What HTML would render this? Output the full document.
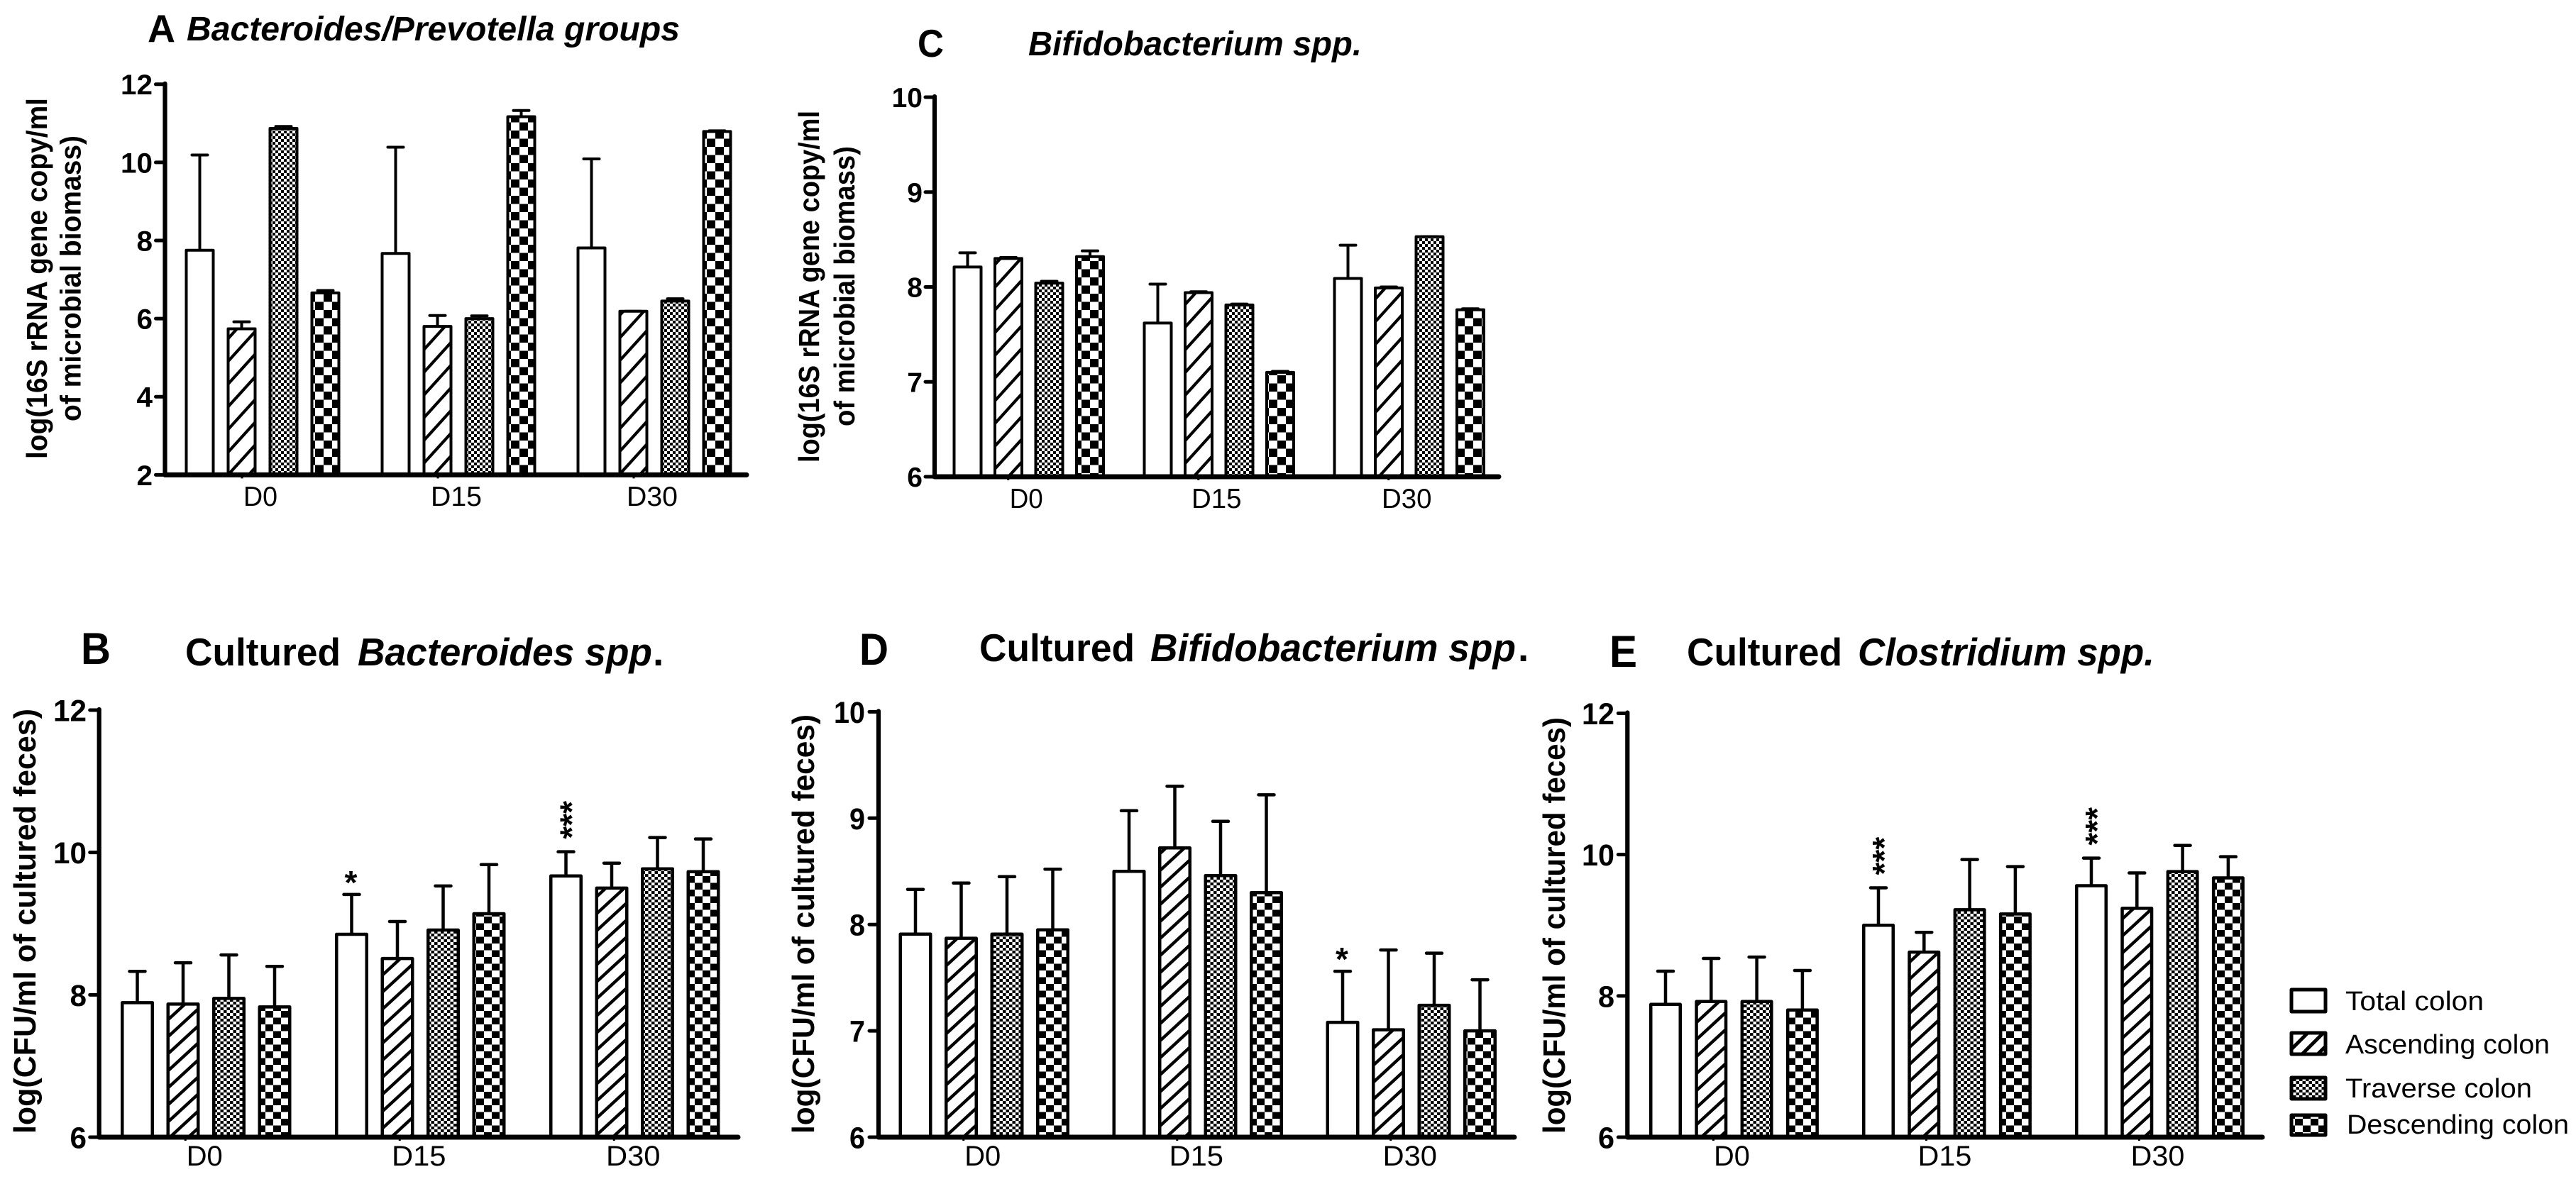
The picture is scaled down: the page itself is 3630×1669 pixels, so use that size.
<!DOCTYPE html>
<html lang="en">
<head>
<meta charset="utf-8">
<title>Colon microbiota bar charts</title>
<style>
html,body{margin:0;padding:0;background:#fff;width:3630px;height:1669px;overflow:hidden}
svg{display:block}
text{font-family:"Liberation Sans",sans-serif;fill:#000}
.b{font-weight:bold}
.bi{font-weight:bold;font-style:italic}
</style>
</head>
<body>
<svg id="figure" xmlns="http://www.w3.org/2000/svg" width="3630" height="1669" viewBox="0 0 3630 1669">
<defs>
<pattern id="hatch-top" patternUnits="userSpaceOnUse" width="29" height="32">
<rect width="29" height="32" fill="#fff"/>
<path d="M-2.9 3.2L2.9 -3.2M0 32L29 0M26.1 35.2L31.9 28.8" stroke="#000" stroke-width="4.2" fill="none"/>
</pattern>
<pattern id="hatch-low" patternUnits="userSpaceOnUse" width="26" height="24">
<rect width="26" height="24" fill="#fff"/>
<path d="M-2.6 2.4L2.6 -2.4M0 24L26 0M23.4 26.4L28.6 21.6" stroke="#000" stroke-width="4.4" fill="none"/>
</pattern>
<pattern id="hatch-legend" patternUnits="userSpaceOnUse" width="22" height="22">
<rect width="22" height="22" fill="#fff"/>
<path d="M-2 2L2 -2M0 22L22 0M20 24L24 20" stroke="#000" stroke-width="5" fill="none"/>
</pattern>
<pattern id="fine-top" patternUnits="userSpaceOnUse" width="8" height="8">
<rect width="8" height="8" fill="#fff"/>
<rect x="0" y="0" width="4" height="4" fill="#000"/>
<rect x="4" y="4" width="4" height="4" fill="#000"/>
</pattern>
<pattern id="fine-low" patternUnits="userSpaceOnUse" width="9" height="8">
<rect width="9" height="8" fill="#fff"/>
<rect x="0" y="0" width="4.5" height="4" fill="#000"/>
<rect x="4.5" y="4" width="4.5" height="4" fill="#000"/>
</pattern>
<pattern id="coarse-top" patternUnits="userSpaceOnUse" width="24" height="23">
<rect width="24" height="23" fill="#fff"/>
<rect x="0" y="0" width="12" height="11.5" fill="#000"/>
<rect x="12" y="11.5" width="12" height="11.5" fill="#000"/>
</pattern>
<pattern id="coarse-low" patternUnits="userSpaceOnUse" width="22" height="19">
<rect width="22" height="19" fill="#fff"/>
<rect x="0" y="0" width="11" height="9.5" fill="#000"/>
<rect x="11" y="9.5" width="11" height="9.5" fill="#000"/>
</pattern>
</defs>
<rect width="3630" height="1669" fill="#fff"/>

<!-- Panel letters and titles -->
<text class="b" x="208" y="59" font-size="55" textLength="39" lengthAdjust="spacingAndGlyphs">A</text>
<text class="bi" x="263" y="57" font-size="48" textLength="695" lengthAdjust="spacingAndGlyphs">Bacteroides/Prevotella groups</text>

<text class="b" x="1293" y="80" font-size="55" textLength="37" lengthAdjust="spacingAndGlyphs">C</text>
<text class="bi" x="1449" y="78" font-size="48" textLength="470" lengthAdjust="spacingAndGlyphs">Bifidobacterium spp.</text>

<text class="b" x="114" y="936" font-size="63" textLength="42" lengthAdjust="spacingAndGlyphs">B</text>
<text class="b" x="261" y="938" font-size="55" textLength="219" lengthAdjust="spacingAndGlyphs">Cultured</text>
<text class="bi" x="504" y="938" font-size="55" textLength="415" lengthAdjust="spacingAndGlyphs">Bacteroides spp</text>
<text class="b" x="920" y="938" font-size="55">.</text>

<text class="b" x="1211" y="937" font-size="63" textLength="41" lengthAdjust="spacingAndGlyphs">D</text>
<text class="b" x="1380" y="932" font-size="55" textLength="219" lengthAdjust="spacingAndGlyphs">Cultured</text>
<text class="bi" x="1621" y="932" font-size="55" textLength="515" lengthAdjust="spacingAndGlyphs">Bifidobacterium spp</text>
<text class="b" x="2139" y="932" font-size="55">.</text>

<text class="b" x="2268" y="940" font-size="63" textLength="39" lengthAdjust="spacingAndGlyphs">E</text>
<text class="b" x="2377" y="938" font-size="55" textLength="219" lengthAdjust="spacingAndGlyphs">Cultured</text>
<text class="bi" x="2618" y="938" font-size="55" textLength="418" lengthAdjust="spacingAndGlyphs">Clostridium spp.</text>

<!-- Y axis titles -->
<text class="b" font-size="41" transform="translate(66,647) rotate(-90)" textLength="509" lengthAdjust="spacingAndGlyphs">log(16S rRNA gene copy/ml</text>
<text class="b" font-size="41" transform="translate(113.5,594) rotate(-90)" textLength="403" lengthAdjust="spacingAndGlyphs">of microbial biomass)</text>
<text class="b" font-size="41" transform="translate(1154,652) rotate(-90)" textLength="496" lengthAdjust="spacingAndGlyphs">log(16S rRNA gene copy/ml</text>
<text class="b" font-size="41" transform="translate(1204,601) rotate(-90)" textLength="395" lengthAdjust="spacingAndGlyphs">of microbial biomass)</text>
<text class="b" font-size="44" transform="translate(50,1598) rotate(-90)" textLength="599" lengthAdjust="spacingAndGlyphs">log(CFU/ml of cultured feces)</text>
<text class="b" font-size="44" transform="translate(1147,1598) rotate(-90)" textLength="591" lengthAdjust="spacingAndGlyphs">log(CFU/ml of cultured feces)</text>
<text class="b" font-size="44" transform="translate(2205,1598) rotate(-90)" textLength="587" lengthAdjust="spacingAndGlyphs">log(CFU/ml of cultured feces)</text>

<!-- Legend -->
<g>
<rect x="3229" y="1395" width="48" height="31" fill="#fff" stroke="#000" stroke-width="5" stroke-linejoin="round"/>
<text x="3305" y="1424" font-size="38" textLength="195" lengthAdjust="spacingAndGlyphs">Total colon</text>
<rect x="3229" y="1456" width="48" height="30" fill="url(#hatch-legend)" stroke="#000" stroke-width="5" stroke-linejoin="round"/>
<text x="3305" y="1485" font-size="38" textLength="288" lengthAdjust="spacingAndGlyphs">Ascending colon</text>
<rect x="3229" y="1519" width="48" height="30" fill="url(#fine-low)" stroke="#000" stroke-width="5" stroke-linejoin="round"/>
<text x="3305" y="1547" font-size="38" textLength="263" lengthAdjust="spacingAndGlyphs">Traverse colon</text>
<rect x="3229" y="1572" width="48" height="28" fill="url(#coarse-low)" stroke="#000" stroke-width="5" stroke-linejoin="round"/>
<text x="3307" y="1598" font-size="38" textLength="313" lengthAdjust="spacingAndGlyphs">Descending colon</text>
</g>
</svg>

<script>
// ---- shared categories ----
const days = ['D0', 'D15', 'D30'];
const seriesNames = ['total', 'ascending', 'traverse', 'descending'];

// ---- panel A: Bacteroides/Prevotella groups ----
const aTicks = [2, 4, 6, 8, 10, 12];
const aD0Means = [7.75, 5.74, 10.87, 6.66];
const aD0Upper = [10.19, 5.92, 10.92, 6.72];
const aD15Means = [7.67, 5.80, 6.00, 11.17];
const aD15Upper = [10.39, 6.08, 6.07, 11.33];
const aD30Means = [7.81, 6.19, 6.45, 10.79];
const aD30Upper = [10.09, 6.19, 6.51, 10.81];

// ---- panel C: Bifidobacterium spp. ----
const cTicks = [6, 7, 8, 9, 10];
const cD0Means = [8.21, 8.30, 8.04, 8.32];
const cD0Upper = [8.36, 8.31, 8.06, 8.38];
const cD15Means = [7.62, 7.94, 7.81, 7.10];
const cD15Upper = [8.03, 7.95, 7.82, 7.11];
const cD30Means = [8.09, 7.99, 8.53, 7.76];
const cD30Upper = [8.44, 8.00, 8.53, 7.77];

// ---- panel B: Cultured Bacteroides spp. ----
const bTicks = [6, 8, 10, 12];
const bD0Means = [7.89, 7.87, 7.95, 7.83];
const bD0Upper = [8.33, 8.45, 8.56, 8.40];
const bD15Means = [8.85, 8.51, 8.91, 9.14];
const bD15Upper = [9.41, 9.03, 9.53, 9.83];
const bD30Means = [9.67, 9.50, 9.77, 9.73];
const bD30Upper = [10.01, 9.85, 10.21, 10.19];
const bStars = ['', '*', '***'];

// ---- panel D: Cultured Bifidobacterium spp. ----
const dTicks = [6, 7, 8, 9, 10];
const dD0Means = [7.91, 7.87, 7.91, 7.95];
const dD0Upper = [8.33, 8.39, 8.45, 8.52];
const dD15Means = [8.50, 8.72, 8.46, 8.30];
const dD15Upper = [9.07, 9.30, 8.97, 9.22];
const dD30Means = [7.08, 7.01, 7.24, 7.00];
const dD30Upper = [7.56, 7.76, 7.73, 7.48];
const dStars = ['', '', '*'];

// ---- panel E: Cultured Clostridium spp. ----
const eTicks = [6, 8, 10, 12];
const eD0Means = [7.88, 7.92, 7.92, 7.80];
const eD0Upper = [8.35, 8.53, 8.55, 8.36];
const eD15Means = [9.00, 8.62, 9.22, 9.16];
const eD15Upper = [9.53, 8.90, 9.93, 9.83];
const eD30Means = [9.56, 9.24, 9.76, 9.67];
const eD30Upper = [9.95, 9.74, 10.13, 9.97];
const eStars = ['', '***', '***'];

const NS = 'http://www.w3.org/2000/svg';
const figure = document.getElementById('figure');

function mk(parent, tag, attrs, txt) {
  const el = document.createElementNS(NS, tag);
  for (const k in attrs) el.setAttribute(k, attrs[k]);
  if (txt !== undefined) el.textContent = txt;
  parent.appendChild(el);
  return el;
}

function drawPanel(id, g, ticks, means, upper, stars) {
  const panel = mk(figure, 'g', {});
  
  
  const fills = ['#fff', 'url(#hatch-' + g.tier + ')', 'url(#fine-' + g.tier + ')', 'url(#coarse-' + g.tier + ')'];
  const vMin = ticks[0], vMax = ticks[ticks.length - 1];
  const yScale = v => g.yBottom - (v - vMin) / (vMax - vMin) * (g.yBottom - g.yTop);
  const barLeft = (d, s) => g.left0 + d * g.groupStep + s * g.step;

  means.forEach((row, d) => {
    row.forEach((value, s) => {
      const cx = barLeft(d, s) + g.barW / 2;
      const errTop = yScale(upper[d][s]);
      const yVal = yScale(value);
      const err = mk(panel, 'path', {
        d: 'M' + cx + ' ' + yVal + 'V' + errTop + 'M' + (cx - 11) + ' ' + errTop + 'H' + (cx + 11),
        stroke: '#000', 'stroke-width': g.sw, fill: 'none', 'stroke-linecap': 'round'
      });
      
      
      const bar = mk(panel, 'rect', {
        x: barLeft(d, s) + g.sw / 2, y: yVal, width: g.barW - g.sw, height: g.yBottom - yVal,
        fill: fills[s], stroke: '#000', 'stroke-width': g.sw, 'stroke-linejoin': 'round'
      });
      
      
    });
    if (stars && stars[d]) {
      const cx = barLeft(d, 0) + g.barW / 2;
      const base = yScale(upper[d][0]) - 18;
      const attrs = stars[d].length > 1
        ? { transform: 'translate(' + (cx + 24) + ',' + base + ') rotate(-90)', 'font-size': 46, 'font-weight': 'bold' }
        : { x: cx - 1, y: base + 17, 'font-size': 46, 'font-weight': 'bold', 'text-anchor': 'middle' };
      const star = mk(panel, 'text', attrs, stars[d]);
      
      
    }
    const groupCenter = barLeft(d, 0) + (g.step * 3 + g.barW) / 2;
    const xTick = mk(panel, 'line', {
      x1: groupCenter - 29, x2: groupCenter - 29, y1: g.yBottom, y2: g.yBottom + 5,
      stroke: '#000', 'stroke-width': 3
    });
    
    
    const xLabel = mk(panel, 'text', {
      x: groupCenter + g.xLabelOffset, y: g.xLabelY, 'font-size': g.xLabelFont, 'text-anchor': 'middle',
      textLength: days[d].length * g.xLabelCharW, lengthAdjust: 'spacingAndGlyphs'
    }, days[d]);
    
    
  });

  const yAxis = mk(panel, 'line', {
    x1: g.axisX, x2: g.axisX, y1: g.yTop - 1, y2: g.yBottom,
    stroke: '#000', 'stroke-width': 6.2, 'stroke-linecap': 'round'
  });
  
  
  const xAxis = mk(panel, 'line', {
    x1: g.axisX, x2: g.xEnd, y1: g.yBottom, y2: g.yBottom,
    stroke: '#000', 'stroke-width': 7, 'stroke-linecap': 'round'
  });
  
  

  ticks.forEach(t => {
    const y = yScale(t);
    const tick = mk(panel, 'line', {
      x1: g.axisX - 13, x2: g.axisX, y1: y, y2: y,
      stroke: '#000', 'stroke-width': 5, 'stroke-linecap': 'round'
    });
    
    
    const label = mk(panel, 'text', {
      x: g.tickRight, y: y + g.tickFont * 0.36, 'font-size': g.tickFont, 'font-weight': 'bold', 'text-anchor': 'end',
      textLength: String(t).length * g.digitW, lengthAdjust: 'spacingAndGlyphs'
    }, String(t));
    
    
  });
}

const layoutA = { tier: 'top', sw: 4, axisX: 232.5, yTop: 118.8, yBottom: 669.4, xEnd: 1052, left0: 260.5, barW: 42, step: 59, groupStep: 276, tickRight: 215, tickFont: 40, digitW: 22.5, xLabelY: 713, xLabelFont: 39, xLabelCharW: 24, xLabelOffset: -3 };
const layoutC = { tier: 'top', sw: 4, axisX: 1317, yTop: 137, yBottom: 672, xEnd: 2112, left0: 1342.5, barW: 42, step: 57.5, groupStep: 268, tickRight: 1300, tickFont: 39, digitW: 21.7, xLabelY: 716, xLabelFont: 39, xLabelCharW: 23.5, xLabelOffset: -3.5 };
const layoutB = { tier: 'low', sw: 4.5, axisX: 139.7, yTop: 1001, yBottom: 1603, xEnd: 1040, left0: 170, barW: 47, step: 64.5, groupStep: 302, tickRight: 122, tickFont: 43, digitW: 23.5, xLabelY: 1643, xLabelFont: 40, xLabelCharW: 25.5, xLabelOffset: -2 };
const layoutD = { tier: 'low', sw: 4.5, axisX: 1238, yTop: 1003.4, yBottom: 1603, xEnd: 2134, left0: 1266.5, barW: 47, step: 64.5, groupStep: 301, tickRight: 1219, tickFont: 43, digitW: 22, xLabelY: 1643, xLabelFont: 40, xLabelCharW: 25.5, xLabelOffset: -2 };
const layoutE = { tier: 'low', sw: 4.5, axisX: 2293.3, yTop: 1005.5, yBottom: 1603, xEnd: 3188, left0: 2324, barW: 46, step: 64.3, groupStep: 300, tickRight: 2275, tickFont: 43, digitW: 23, xLabelY: 1643, xLabelFont: 40, xLabelCharW: 25.3, xLabelOffset: -3 };

drawPanel('a', layoutA, aTicks, [aD0Means, aD15Means, aD30Means], [aD0Upper, aD15Upper, aD30Upper], null);
drawPanel('c', layoutC, cTicks, [cD0Means, cD15Means, cD30Means], [cD0Upper, cD15Upper, cD30Upper], null);
drawPanel('b', layoutB, bTicks, [bD0Means, bD15Means, bD30Means], [bD0Upper, bD15Upper, bD30Upper], bStars);
drawPanel('d', layoutD, dTicks, [dD0Means, dD15Means, dD30Means], [dD0Upper, dD15Upper, dD30Upper], dStars);
drawPanel('e', layoutE, eTicks, [eD0Means, eD15Means, eD30Means], [eD0Upper, eD15Upper, eD30Upper], eStars);
</script>
</body>
</html>
